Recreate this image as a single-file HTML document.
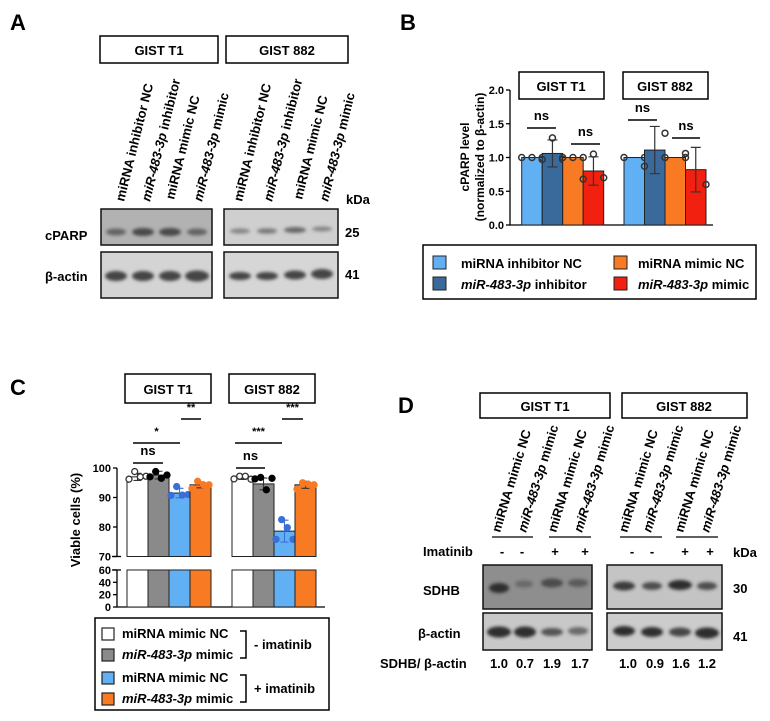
<!DOCTYPE html>
<html><head><meta charset="utf-8"><style>
html,body{margin:0;padding:0;background:#fff;}
svg{display:block;font-family:"Liberation Sans",Arial,sans-serif;}
.b{font-weight:bold;}
</style></head><body>
<svg id="fig" width="770" height="721" viewBox="0 0 770 721" xmlns="http://www.w3.org/2000/svg">
<defs>
<filter id="blur" x="-30%" y="-100%" width="160%" height="300%"><feGaussianBlur stdDeviation="1.6"/></filter>
</defs>
<!-- Panel A -->
<g>
<text x="10" y="30" font-size="22" class="b">A</text>
<rect x="100" y="36" width="118" height="27" fill="#fff" stroke="#000" stroke-width="1.5"/>
<text x="159" y="55" font-size="13" text-anchor="middle" class="b">GIST T1</text>
<rect x="226" y="36" width="122" height="27" fill="#fff" stroke="#000" stroke-width="1.5"/>
<text x="287" y="55" font-size="13" text-anchor="middle" class="b">GIST 882</text>
<g font-size="13" class="b">
<text transform="translate(124,202) rotate(-76)">miRNA inhibitor NC</text>
<text transform="translate(150,202) rotate(-76)"><tspan font-style="italic">miR-483-3p</tspan> inhibitor</text>
<text transform="translate(174,200) rotate(-76)">miRNA mimic NC</text>
<text transform="translate(202,202) rotate(-76)"><tspan font-style="italic">miR-483-3p</tspan> mimic</text>
<text transform="translate(242,202) rotate(-76)">miRNA inhibitor NC</text>
<text transform="translate(272,202) rotate(-76)"><tspan font-style="italic">miR-483-3p</tspan> inhibitor</text>
<text transform="translate(302,200) rotate(-76)">miRNA mimic NC</text>
<text transform="translate(328,202) rotate(-76)"><tspan font-style="italic">miR-483-3p</tspan> mimic</text>
</g>
<text x="346" y="204" font-size="13" class="b">kDa</text>
<text x="45" y="240" font-size="13" class="b">cPARP</text>
<text x="45" y="281" font-size="13" class="b">β-actin</text>
<text x="345" y="237" font-size="13" class="b">25</text>
<text x="345" y="279" font-size="13" class="b">41</text>
<g>
<rect x="101" y="209" width="111" height="36" fill="#b2b2b2" stroke="#111" stroke-width="1.5"/>
<g filter="url(#blur)" fill="#4a4a4a"><ellipse cx="116" cy="232" rx="10" ry="3.5" opacity="0.75"/><ellipse cx="143" cy="232" rx="11" ry="4"/><ellipse cx="170" cy="232" rx="11" ry="4"/><ellipse cx="197" cy="232" rx="10" ry="3.5" opacity="0.75"/></g>
</g>
<g>
<rect x="224" y="209" width="114" height="36" fill="#cfcfcf" stroke="#111" stroke-width="1.5"/>
<g filter="url(#blur)" fill="#555"><ellipse cx="240" cy="231" rx="10" ry="2.6" opacity="0.6"/><ellipse cx="267" cy="231" rx="10" ry="2.8" opacity="0.7"/><ellipse cx="295" cy="230" rx="11" ry="3" opacity="0.85"/><ellipse cx="322" cy="229" rx="10" ry="2.5" opacity="0.6"/></g>
</g>
<g>
<rect x="101" y="252" width="111" height="46" fill="#d4d4d4" stroke="#111" stroke-width="1.5"/>
<g filter="url(#blur)" fill="#444"><ellipse cx="116" cy="276" rx="11" ry="5"/><ellipse cx="143" cy="276" rx="11" ry="5"/><ellipse cx="170" cy="276" rx="11" ry="5"/><ellipse cx="197" cy="276" rx="12" ry="5.5"/></g>
</g>
<g>
<rect x="224" y="252" width="114" height="46" fill="#d6d6d6" stroke="#111" stroke-width="1.5"/>
<g filter="url(#blur)" fill="#444"><ellipse cx="240" cy="276" rx="11" ry="4"/><ellipse cx="267" cy="276" rx="11" ry="4"/><ellipse cx="295" cy="275" rx="11" ry="4.5"/><ellipse cx="322" cy="274" rx="11" ry="5"/></g>
</g>
</g>

<!-- Panel B -->
<g id="panelB">
<text x="400" y="30" font-size="22" class="b">B</text>
<rect x="519" y="72" width="85" height="27" fill="#fff" stroke="#000" stroke-width="1.5"/>
<text x="561" y="91" font-size="13" text-anchor="middle" class="b">GIST T1</text>
<rect x="623" y="72" width="85" height="27" fill="#fff" stroke="#000" stroke-width="1.5"/>
<text x="665" y="91" font-size="13" text-anchor="middle" class="b">GIST 882</text>
<text transform="translate(484,157) rotate(-90)" font-size="12" text-anchor="middle" class="b"><tspan x="0" dy="-15">cPARP level</tspan><tspan x="0" dy="15">(normalized to β-actin)</tspan></text>
</g>
<g>
<rect x="423" y="245" width="333" height="54" fill="#fff" stroke="#000" stroke-width="1.5"/>
<rect x="433" y="256" width="13" height="13" fill="#62b0f4" stroke="#222"/>
<text x="461" y="268" font-size="13" class="b">miRNA inhibitor NC</text>
<rect x="433" y="277" width="13" height="13" fill="#3a6a9c" stroke="#222"/>
<text x="461" y="289" font-size="13" class="b"><tspan font-style="italic">miR-483-3p</tspan> inhibitor</text>
<rect x="614" y="256" width="13" height="13" fill="#f87a22" stroke="#222"/>
<text x="638" y="268" font-size="13" class="b">miRNA mimic NC</text>
<rect x="614" y="277" width="13" height="13" fill="#f2200e" stroke="#222"/>
<text x="638" y="289" font-size="13" class="b"><tspan font-style="italic">miR-483-3p</tspan> mimic</text>
</g>

<!-- Panel C -->
<g id="panelC">
<text x="10" y="395" font-size="22" class="b">C</text>
<rect x="125" y="374" width="86" height="29" fill="#fff" stroke="#000" stroke-width="1.5"/>
<text x="168" y="394" font-size="13" text-anchor="middle" class="b">GIST T1</text>
<rect x="229" y="374" width="86" height="29" fill="#fff" stroke="#000" stroke-width="1.5"/>
<text x="272" y="394" font-size="13" text-anchor="middle" class="b">GIST 882</text>
<text transform="translate(80,520) rotate(-90)" font-size="13" text-anchor="middle" class="b">Viable cells (%)</text>
</g>
<g>
<rect x="95" y="618" width="234" height="92" fill="#fff" stroke="#000" stroke-width="1.5"/>
<rect x="102" y="628" width="12" height="12" fill="#fff" stroke="#222" stroke-width="1.2"/>
<text x="122" y="638" font-size="13" class="b">miRNA mimic NC</text>
<rect x="102" y="649" width="12" height="12" fill="#8a8a8a" stroke="#222" stroke-width="1.2"/>
<text x="122" y="659" font-size="13" class="b"><tspan font-style="italic">miR-483-3p</tspan> mimic</text>
<rect x="102" y="672" width="12" height="12" fill="#62b0f4" stroke="#222" stroke-width="1.2"/>
<text x="122" y="682" font-size="13" class="b">miRNA mimic NC</text>
<rect x="102" y="693" width="12" height="12" fill="#f87a22" stroke="#222" stroke-width="1.2"/>
<text x="122" y="703" font-size="13" class="b"><tspan font-style="italic">miR-483-3p</tspan> mimic</text>
<path d="M240,631 h6 v27 h-6 M240,675 h6 v27 h-6" fill="none" stroke="#000" stroke-width="1.5"/>
<text x="254" y="649" font-size="13" class="b">- imatinib</text>
<text x="254" y="693" font-size="13" class="b">+ imatinib</text>
</g>

<!-- Panel D -->
<g>
<text x="398" y="413" font-size="22" class="b">D</text>
<rect x="480" y="393" width="130" height="25" fill="#fff" stroke="#000" stroke-width="1.5"/>
<text x="545" y="411" font-size="13" text-anchor="middle" class="b">GIST T1</text>
<rect x="622" y="393" width="125" height="25" fill="#fff" stroke="#000" stroke-width="1.5"/>
<text x="684" y="411" font-size="13" text-anchor="middle" class="b">GIST 882</text>
<g font-size="13" class="b">
<text transform="translate(500,533) rotate(-73)">miRNA mimic NC</text>
<text transform="translate(526,533) rotate(-73)"><tspan font-style="italic">miR-483-3p</tspan> mimic</text>
<text transform="translate(556,533) rotate(-73)">miRNA mimic NC</text>
<text transform="translate(582,533) rotate(-73)"><tspan font-style="italic">miR-483-3p</tspan> mimic</text>
<text transform="translate(627,533) rotate(-73)">miRNA mimic NC</text>
<text transform="translate(651,533) rotate(-73)"><tspan font-style="italic">miR-483-3p</tspan> mimic</text>
<text transform="translate(683,533) rotate(-73)">miRNA mimic NC</text>
<text transform="translate(709,533) rotate(-73)"><tspan font-style="italic">miR-483-3p</tspan> mimic</text>
</g>
<path d="M492,537 h41 M549,537 h42 M620,537 h42 M676,537 h42" stroke="#000" stroke-width="1.2"/>
<text x="423" y="556" font-size="13" class="b">Imatinib</text>
<g font-size="13" class="b" text-anchor="middle">
<text x="502" y="556">-</text><text x="522" y="556">-</text><text x="555" y="556">+</text><text x="585" y="556">+</text>
<text x="632" y="556">-</text><text x="652" y="556">-</text><text x="685" y="556">+</text><text x="710" y="556">+</text>
</g>
<text x="733" y="557" font-size="13" class="b">kDa</text>
<text x="423" y="595" font-size="13" class="b">SDHB</text>
<text x="418" y="638" font-size="13" class="b">β-actin</text>
<text x="733" y="593" font-size="13" class="b">30</text>
<text x="733" y="641" font-size="13" class="b">41</text>
<g>
<rect x="483" y="565" width="109" height="44" fill="#8e8e8e" stroke="#111" stroke-width="1.5"/>
<g filter="url(#blur)" fill="#2e2e2e"><ellipse cx="499" cy="588" rx="10" ry="5"/><ellipse cx="524" cy="584" rx="9" ry="3.5" opacity="0.4"/><ellipse cx="552" cy="583" rx="11" ry="4.5" opacity="0.7"/><ellipse cx="578" cy="583" rx="10" ry="4" opacity="0.55"/></g>
</g>
<g>
<rect x="607" y="565" width="115" height="44" fill="#c4c4c4" stroke="#111" stroke-width="1.5"/>
<g filter="url(#blur)" fill="#2e2e2e"><ellipse cx="624" cy="586" rx="11" ry="4.5" opacity="0.9"/><ellipse cx="652" cy="586" rx="10" ry="4" opacity="0.8"/><ellipse cx="680" cy="585" rx="12" ry="5"/><ellipse cx="707" cy="586" rx="10" ry="4" opacity="0.8"/></g>
</g>
<g>
<rect x="483" y="613" width="109" height="37" fill="#c8c8c8" stroke="#111" stroke-width="1.5"/>
<g filter="url(#blur)" fill="#2e2e2e"><ellipse cx="499" cy="632" rx="12" ry="5.5"/><ellipse cx="525" cy="632" rx="11" ry="5.5"/><ellipse cx="552" cy="632" rx="11" ry="4" opacity="0.75"/><ellipse cx="578" cy="631" rx="10" ry="4" opacity="0.6"/></g>
</g>
<g>
<rect x="607" y="613" width="115" height="37" fill="#cccccc" stroke="#111" stroke-width="1.5"/>
<g filter="url(#blur)" fill="#2e2e2e"><ellipse cx="624" cy="631" rx="11" ry="5"/><ellipse cx="652" cy="632" rx="11" ry="5"/><ellipse cx="680" cy="632" rx="11" ry="4.5" opacity="0.85"/><ellipse cx="707" cy="633" rx="12" ry="5.5"/></g>
</g>
<text x="380" y="668" font-size="13" class="b">SDHB/ β-actin</text>
<g font-size="13" class="b" text-anchor="middle">
<text x="499" y="668">1.0</text><text x="525" y="668">0.7</text><text x="552" y="668">1.9</text><text x="580" y="668">1.7</text>
<text x="628" y="668">1.0</text><text x="655" y="668">0.9</text><text x="681" y="668">1.6</text><text x="707" y="668">1.2</text>
</g>
</g>
</svg>
<script>
// ---------- Panel B data ----------
const bGroups = ["GIST T1", "GIST 882"];
const bSeries = ["miRNA inhibitor NC", "miR-483-3p inhibitor", "miRNA mimic NC", "miR-483-3p mimic"];
const bMeansT1 = [1.0, 1.06, 1.0, 0.8];
const bMeans882 = [1.0, 1.11, 1.0, 0.82];
const bSdT1 = [0, 0.2, 0, 0.21];
const bSd882 = [0, 0.35, 0, 0.33];
const bPtsT1 = [[1, 1, 1], [0.97, 1.29, 0.97], [1, 1, 1], [0.68, 1.05, 0.7]];
const bPts882 = [[1, 1], [0.87, 1.36], [1, 1], [1.06, 0.6]];
const bTicks = [0.0, 0.5, 1.0, 1.5, 2.0];
const bColors = ["#62b0f4", "#3a6a9c", "#f87a22", "#f2200e"];

// ---------- Panel C data ----------
const cSeries = ["miRNA mimic NC -imatinib", "miR-483-3p mimic -imatinib", "miRNA mimic NC +imatinib", "miR-483-3p mimic +imatinib"];
const cMeansT1 = [97, 97.6, 91.5, 94.3];
const cMeans882 = [96.6, 94.6, 78.6, 94.3];
const cSdT1 = [1.2, 1.3, 1.6, 1.0];
const cSd882 = [0.5, 2.0, 3.7, 1.2];
const cPtsT1 = [[96.2, 98.8, 97, 97.2], [97, 98.8, 96.5, 97.6], [90.7, 93.7, 90.8, 91], [93, 95.5, 94.3, 94.3]];
const cPts882 = [[96.3, 97.2, 97.2, 96.2], [96.3, 96.8, 92.6, 96.5], [75.8, 82.5, 79.8, 75.8], [92.8, 95, 94.5, 94.3]];
const cTicksUpper = [70, 80, 90, 100];
const cTicksLower = [0, 20, 40, 60];
const cColors = ["#ffffff", "#8a8a8a", "#62b0f4", "#f87a22"];
const cDotColors = ["#fff", "#000", "#3a6fd8", "#f87a22"];

const NS = "http://www.w3.org/2000/svg";
function mk(parent, tag, attrs) {
  const e = document.createElementNS(NS, tag);
  for (const k in attrs) e.setAttribute(k, attrs[k]);
  parent.appendChild(e);
  return e;
}

// ---- Panel B ----
(function () {
  const g = document.getElementById("panelB");
  const yB = v => 225 - v * 67.5;
  const axisX = 510, barW = 20.5;
  const groupStart = [521.7, 624];
  const means = [bMeansT1, bMeans882], sds = [bSdT1, bSd882], pts = [bPtsT1, bPts882];
  const ax = mk(g, "path", { d: `M${axisX},${yB(2)} V${yB(0)} H713`, stroke: "#000", "stroke-width": 1.3, fill: "none" });
  
  
  bTicks.forEach(t => {
    mk(g, "line", { x1: axisX - 4, x2: axisX, y1: yB(t), y2: yB(t), stroke: "#000", "stroke-width": 1.3 });
    const tx = mk(g, "text", { x: axisX - 6, y: yB(t) + 4, "font-size": 11, "text-anchor": "end", "font-weight": "bold" });
    tx.textContent = t.toFixed(1);
    
    
  });
  for (let gi = 0; gi < 2; gi++) {
    for (let si = 0; si < 4; si++) {
      const x0 = groupStart[gi] + si * barW, m = means[gi][si];
      const r = mk(g, "rect", { x: x0, y: yB(m), width: barW, height: yB(0) - yB(m), fill: bColors[si], stroke: "#222", "stroke-width": 1 });
      
      
      const cx = x0 + barW / 2, sd = sds[gi][si];
      if (sd > 0) {
        mk(g, "path", { d: `M${cx},${yB(m - sd)} V${yB(m + sd)} M${cx - 5},${yB(m - sd)} h10 M${cx - 5},${yB(m + sd)} h10`, stroke: "#333", "stroke-width": 1.2, fill: "none" });
      }
      const p = pts[gi][si], n = p.length;
      p.forEach((v, i) => {
        const px = n === 1 ? cx : x0 + (n === 2 ? (i === 0 ? 0 : barW) : i * barW / (n - 1));
        const c = mk(g, "circle", { cx: px, cy: yB(v), r: 3, fill: "none", stroke: "#333", "stroke-width": 1.5 });
        
        
      });
    }
  }
  const sig = [[527, 556, 128], [571, 600, 144], [628, 657, 120], [672, 700, 138]];
  sig.forEach(s => {
    mk(g, "line", { x1: s[0], x2: s[1], y1: s[2], y2: s[2], stroke: "#000", "stroke-width": 1.5 });
    const t = mk(g, "text", { x: (s[0] + s[1]) / 2, y: s[2] - 8, "font-size": 13, "text-anchor": "middle", "font-weight": "bold" });
    t.textContent = "ns";
  });
})();

// ---- Panel C ----
(function () {
  const g = document.getElementById("panelC");
  const yU = v => 468 - (v - 100) * 2.95;
  const yL = v => 607 - v * 0.617;
  const yC = v => v >= 70 ? yU(v) : yL(Math.min(v, 60));
  const axisX = 117, barW = 21;
  const groupStart = [127, 232];
  const means = [cMeansT1, cMeans882], sds = [cSdT1, cSd882], pts = [cPtsT1, cPts882];
  const a1 = mk(g, "path", { d: `M${axisX},${yU(100)} V${yU(70)} M${axisX},${yL(60)} V${yL(0)} H325`, stroke: "#000", "stroke-width": 1.3, fill: "none" });
  
  
  mk(g, "line", { x1: axisX - 5, x2: axisX + 4, y1: yU(70), y2: yU(70), stroke: "#000", "stroke-width": 1.3 });
  mk(g, "line", { x1: axisX - 5, x2: axisX + 4, y1: yL(60), y2: yL(60), stroke: "#000", "stroke-width": 1.3 });
  cTicksUpper.concat(cTicksLower).forEach(t => {
    const y = yC(t);
    mk(g, "line", { x1: axisX - 4, x2: axisX, y1: y, y2: y, stroke: "#000", "stroke-width": 1.3 });
    const tx = mk(g, "text", { x: axisX - 6, y: y + 4, "font-size": 11, "text-anchor": "end", "font-weight": "bold" });
    tx.textContent = t;
    
    
  });
  for (let gi = 0; gi < 2; gi++) {
    for (let si = 0; si < 4; si++) {
      const x0 = groupStart[gi] + si * barW, m = means[gi][si];
      const upper = mk(g, "rect", { x: x0, y: yU(m), width: barW, height: yU(70) - yU(m), fill: cColors[si], stroke: "#222", "stroke-width": 1 });
      
      
      const lower = mk(g, "rect", { x: x0, y: yL(60), width: barW, height: yL(0) - yL(60), fill: cColors[si], stroke: "#222", "stroke-width": 1 });
      
      
      const cx = x0 + barW / 2, sd = sds[gi][si];
      mk(g, "path", { d: `M${cx},${yU(m - sd)} V${yU(Math.min(m + sd, 100.5))} M${cx - 4},${yU(m - sd)} h8 M${cx - 4},${yU(Math.min(m + sd, 100.5))} h8`, stroke: si === 2 ? "#3a6fd8" : "#333", "stroke-width": 1.1, fill: "none" });
      pts[gi][si].forEach((v, i) => {
        const px = x0 + 2 + i * (barW - 4) / 3;
        const c = mk(g, "circle", { cx: px, cy: yU(v), r: 3, fill: cDotColors[si], stroke: si === 0 ? "#333" : cDotColors[si], "stroke-width": 1.3 });
        
        
      });
    }
  }
  const sig = [[181, 201, 419, "**", 10], [133, 180, 443, "*", 10], [133, 163, 463, "ns", 8],
               [282, 303, 419, "***", 10], [235, 282, 443, "***", 10], [236, 265, 468, "ns", 8]];
  sig.forEach(s => {
    mk(g, "line", { x1: s[0], x2: s[1], y1: s[2], y2: s[2], stroke: "#000", "stroke-width": 1.5 });
    const t = mk(g, "text", { x: (s[0] + s[1]) / 2, y: s[2] - s[4] + (s[3] === "ns" ? 0 : 2), "font-size": s[3] === "ns" ? 13 : 11, "text-anchor": "middle", "font-weight": "bold" });
    t.textContent = s[3];
  });
})();
</script>
</body></html>
